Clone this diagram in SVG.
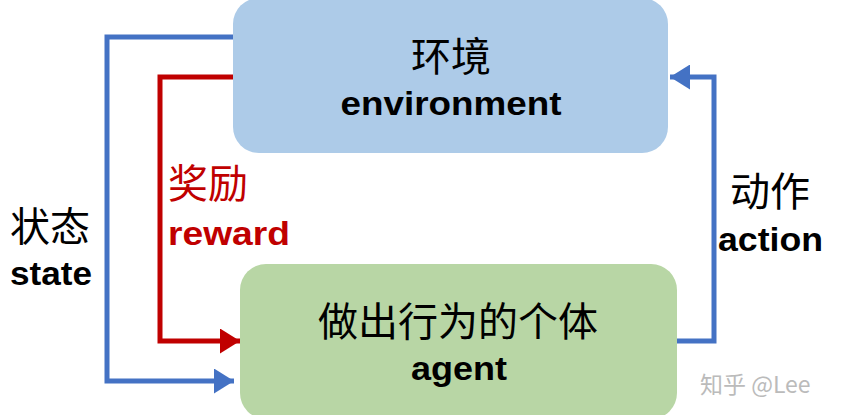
<svg xmlns="http://www.w3.org/2000/svg" width="847" height="415" viewBox="0 0 847 415">
<style>
.zh{font-family:"Noto Sans CJK SC","Noto Sans",sans-serif;font-size:40px;fill:#000}
.en{font-family:"Liberation Sans","Open Sans",sans-serif;font-weight:bold;font-size:33px;fill:#000}
.red{fill:#c00000}
.blue-line{fill:none;stroke:#4472c4;stroke-width:5}
.red-line{fill:none;stroke:#c00000;stroke-width:5}
</style>
<defs>
<marker id="ab" markerWidth="4" markerHeight="5" refX="4" refY="2.5" orient="auto" markerUnits="strokeWidth">
<path d="M0,0 L4,2.5 L0,5 Z" fill="#4472c4"/>
</marker>
<marker id="ar" markerWidth="4" markerHeight="5" refX="4" refY="2.5" orient="auto" markerUnits="strokeWidth">
<path d="M0,0 L4,2.5 L0,5 Z" fill="#c00000"/>
</marker>
</defs>
<rect width="847" height="415" fill="#fff"/>
<g id="connectors">
<polyline class="blue-line" points="236,37 107,37 107,381 234,381" marker-end="url(#ab)"/>
<polyline class="red-line" points="234,77 160,77 160,341 240,341" marker-end="url(#ar)"/>
<polyline class="blue-line" points="676,341 714,341 714,77 670,77" marker-end="url(#ab)"/>
</g>
<g id="environment">
<rect x="233" y="-2" width="435" height="155" rx="26" fill="#adcbe8"/>
<text class="zh" x="451" y="71" text-anchor="middle">环境</text>
<text class="en" x="451" y="115" text-anchor="middle" textLength="221" lengthAdjust="spacingAndGlyphs">environment</text>
</g>
<g id="agent">
<rect x="240" y="264" width="437" height="155" rx="26" fill="#b8d6a5"/>
<text class="zh" x="458" y="336" text-anchor="middle">做出行为的个体</text>
<text class="en" x="459" y="380" text-anchor="middle" textLength="96" lengthAdjust="spacingAndGlyphs">agent</text>
</g>
<g id="label-reward">
<text class="zh red" x="168" y="198">奖励</text>
<text class="en red" x="168" y="245" textLength="122" lengthAdjust="spacingAndGlyphs">reward</text>
</g>
<g id="label-state">
<text class="zh" x="10" y="241">状态</text>
<text class="en" x="10" y="285" textLength="82" lengthAdjust="spacingAndGlyphs">state</text>
</g>
<g id="label-action">
<text class="zh" x="730" y="206">动作</text>
<text class="en" x="718" y="251" textLength="105" lengthAdjust="spacingAndGlyphs">action</text>
</g>
<g id="watermark">
<text x="700" y="393" font-family="Noto Sans CJK SC,Noto Sans,sans-serif" font-size="23" fill="#bbbbbb">知乎 @Lee</text>
</g>
</svg>
